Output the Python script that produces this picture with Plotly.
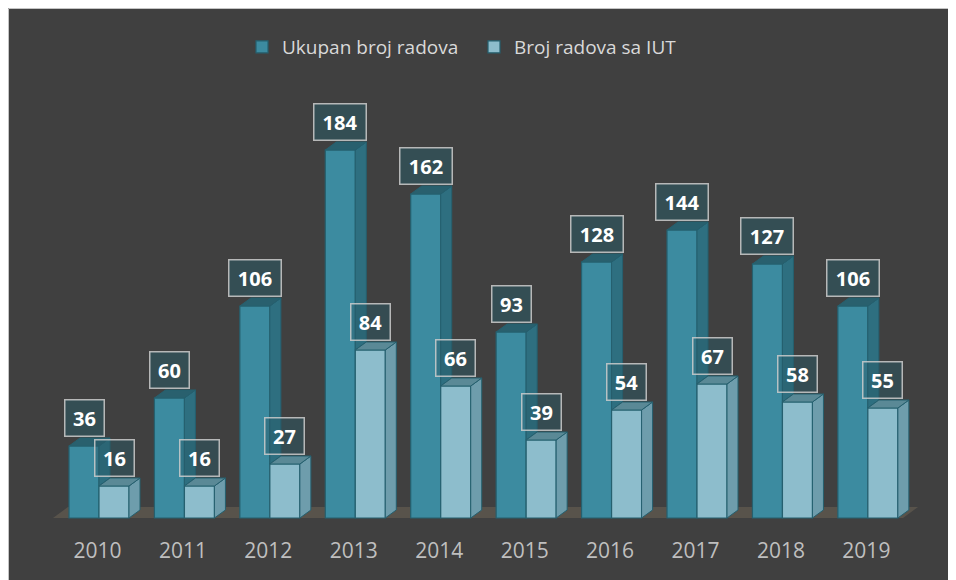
import plotly.graph_objects as go

# ---- data ----
years = ["2010", "2011", "2012", "2013", "2014", "2015", "2016", "2017", "2018", "2019"]
ukupan = [36, 60, 106, 184, 162, 93, 128, 144, 127, 106]
sa_iut = [16, 16, 27, 84, 66, 39, 54, 67, 58, 55]
series_names = ["Ukupan broj radova", "Broj radova sa IUT"]

# ---- geometry helpers (figure pixels; page has an 8px body margin) ----
W, H = 948, 572
ML, MR, MT, MB = 0, 0, 52, 44
PX = 85.43          # px per category
PY = 2.0            # px per value unit
X0PX = 89.5         # pixel of first category
BASEPX = 510        # pixel of value 0
xr = [(0 - X0PX) / PX, (W - X0PX) / PX]
yr = [(BASEPX - (H - MB)) / PY, (BASEPX - MT) / PY]

def ux(p):
    return p / PX

def uy(p):
    return p / PY

BW = ux(30)
OFF_D = ux(-28.5)
OFF_L = ux(1.5)
DX, DY = ux(11), uy(8)

idx = list(range(len(years)))

C_DF, C_DS, C_DT = "#3c8ba0", "#2e6f80", "#29606e"
C_LF, C_LS, C_LT = "#8dbdcc", "#6e9dac", "#5a8996"
C_OUT = "#25606f"

fig = go.Figure()

fig.add_trace(go.Bar(x=idx, y=ukupan, width=BW, offset=OFF_D, name=series_names[0],
                     marker=dict(color=C_DF, line=dict(color=C_OUT, width=1.2))))
fig.add_trace(go.Bar(x=idx, y=sa_iut, width=BW, offset=OFF_L, name=series_names[1],
                     marker=dict(color=C_LF, line=dict(color=C_OUT, width=1.2))))

def poly_trace(xs, ys, fill):
    return go.Scatter(x=xs, y=ys, mode="lines", fill="toself", fillcolor=fill,
                      line=dict(color=C_OUT, width=1), showlegend=False, hoverinfo="skip")

# dark bar side (visible part above light bar) and top
sx, sy, tx, ty = [], [], [], []
for i, (d, l) in enumerate(zip(ukupan, sa_iut)):
    xl = i + OFF_D
    xrr = xl + BW
    sx += [xrr, xrr, xrr + DX, xrr + DX, xrr, None]
    sy += [l, d, d + DY, l + DY, l, None]
    tx += [xl, xrr, xrr + DX, xl + DX, xl, None]
    ty += [d, d, d + DY, d + DY, d, None]
fig.add_trace(poly_trace(sx, sy, C_DS))
fig.add_trace(poly_trace(tx, ty, C_DT))

# light bar side and top
sx, sy, tx, ty = [], [], [], []
for i, l in enumerate(sa_iut):
    xl = i + OFF_L
    xrr = xl + BW
    sx += [xrr, xrr, xrr + DX, xrr + DX, xrr, None]
    sy += [0, l, l + DY, DY, 0, None]
    tx += [xl, xrr, xrr + DX, xl + DX, xl, None]
    ty += [l, l, l + DY, l + DY, l, None]
fig.add_trace(poly_trace(sx, sy, C_LS))
fig.add_trace(poly_trace(tx, ty, C_LT))

# data labels
ann = []
for i, (d, l) in enumerate(zip(ukupan, sa_iut)):
    for v, off, bg in ((d, OFF_D, "rgba(40,92,104,0.50)"), (l, OFF_L, "rgba(40,92,104,0.45)")):
        txt = str(v)
        wbox = 49 if len(txt) == 3 else 36
        ann.append(dict(x=i + off + BW / 2, y=v, xref="x", yref="y", text=f"<b>{txt}</b>",
                        showarrow=False, yanchor="bottom", xanchor="center", yshift=9,
                        width=wbox, height=33, borderpad=1, borderwidth=1.5,
                        bordercolor="rgba(205,205,205,0.85)", bgcolor=bg,
                        font=dict(family="Open Sans", size=20, color="#ffffff")))

def pxp(p):
    return (p - ML) / (W - ML - MR)

def pyp(p):
    return (H - MB - p) / (H - MT - MB)

shapes = [
    # outer border of chart area
    dict(type="rect", xref="paper", yref="paper", x0=pxp(0.5), x1=pxp(W + 5), y0=pyp(H + 5), y1=pyp(0.5),
         fillcolor="rgba(0,0,0,0)", line=dict(color="#c4c4c4", width=1), layer="below"),
    # floor
    dict(type="path", xref="x", yref="y", layer="below",
         path=f"M {ux(45 - X0PX)},0 L {ux(895 - X0PX)},0 L {ux(910 - X0PX)},{uy(11)} L {ux(60 - X0PX)},{uy(11)} Z",
         fillcolor="#58534b", line=dict(width=0)),
]

fig.update_layout(
    width=W, height=H,
    margin=dict(l=ML, r=MR, t=MT, b=MB),
    paper_bgcolor="#404040", plot_bgcolor="rgba(0,0,0,0)",
    barmode="overlay",
    showlegend=True,
    legend=dict(orientation="h", x=pxp(234), xanchor="left", y=pyp(39), yanchor="middle",
                font=dict(family="Open Sans", size=19, color="#d9d9d9"),
                bgcolor="rgba(0,0,0,0)", itemwidth=30, entrywidth=187, entrywidthmode="pixels"),
    xaxis=dict(range=xr, tickvals=idx, ticktext=years, showgrid=False, zeroline=False,
               showline=False, ticks="", tickfont=dict(family="Open Sans", size=21, color="#bfbfbf")),
    yaxis=dict(range=yr, showgrid=False, zeroline=False, showline=False, showticklabels=False, ticks=""),
    annotations=ann,
    shapes=shapes,
)

fig.write_html("out.html")
